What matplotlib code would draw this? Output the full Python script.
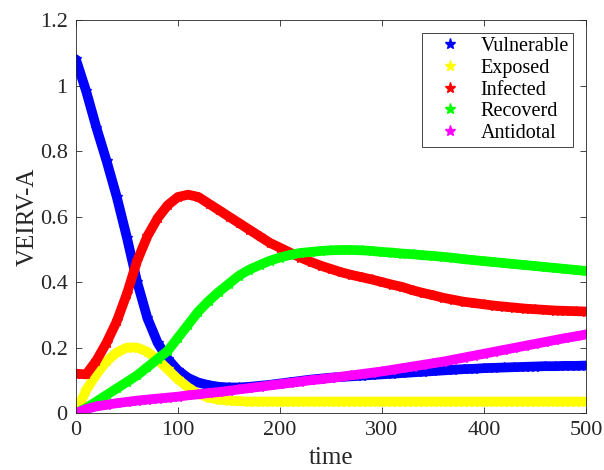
import numpy as np
import matplotlib
matplotlib.use("Agg")
import matplotlib.pyplot as plt
from matplotlib.lines import Line2D
from matplotlib.ticker import FormatStrFormatter

# time grid (every 10 units)
t = np.arange(0, 501, 10)

vulnerable = [1.08, 0.983, 0.872, 0.77, 0.66, 0.535, 0.40, 0.29, 0.215, 0.165,
              0.13, 0.107, 0.093, 0.085, 0.08, 0.078, 0.078, 0.08, 0.083, 0.086,
              0.09, 0.094, 0.098, 0.102, 0.105, 0.108, 0.11, 0.112, 0.114, 0.116,
              0.118, 0.12, 0.122, 0.124, 0.126, 0.128, 0.13, 0.132, 0.134, 0.135,
              0.137, 0.138, 0.139, 0.14, 0.141, 0.142, 0.143, 0.143, 0.144, 0.144,
              0.145]
exposed = [0.0, 0.07, 0.118, 0.158, 0.185, 0.2, 0.2, 0.187, 0.163, 0.133,
           0.103, 0.078, 0.058, 0.047, 0.041, 0.038, 0.036, 0.035, 0.035, 0.035,
           0.035, 0.035, 0.035, 0.035, 0.035, 0.035, 0.035, 0.035, 0.035, 0.035,
           0.035, 0.035, 0.035, 0.035, 0.035, 0.035, 0.035, 0.035, 0.035, 0.035,
           0.035, 0.035, 0.035, 0.035, 0.035, 0.035, 0.035, 0.035, 0.035, 0.035,
           0.035]
infected = [0.12, 0.118, 0.16, 0.215, 0.28, 0.365, 0.465, 0.54, 0.595, 0.635,
            0.66, 0.667, 0.66, 0.64, 0.62, 0.60, 0.58, 0.56, 0.54, 0.52,
            0.505, 0.49, 0.475, 0.462, 0.45, 0.44, 0.43, 0.422, 0.415, 0.408,
            0.40, 0.392, 0.385, 0.375, 0.367, 0.36, 0.352, 0.346, 0.34, 0.336,
            0.332, 0.328, 0.325, 0.322, 0.319, 0.317, 0.315, 0.313, 0.312, 0.311,
            0.31]
recovered = [0.0, 0.015, 0.035, 0.055, 0.075, 0.095, 0.115, 0.14, 0.165, 0.19,
             0.23, 0.27, 0.31, 0.342, 0.37, 0.395, 0.42, 0.438, 0.452, 0.465,
             0.475, 0.483, 0.489, 0.492, 0.495, 0.497, 0.498, 0.498, 0.497, 0.495,
             0.492, 0.49, 0.487, 0.485, 0.482, 0.48, 0.477, 0.474, 0.47, 0.467,
             0.464, 0.461, 0.458, 0.455, 0.452, 0.449, 0.446, 0.443, 0.44, 0.437,
             0.434]
antidotal = [0.0, 0.012, 0.02, 0.025, 0.03, 0.034, 0.038, 0.041, 0.044, 0.047,
             0.05, 0.054, 0.057, 0.061, 0.064, 0.068, 0.072, 0.076, 0.08, 0.084,
             0.088, 0.092, 0.096, 0.1, 0.103, 0.107, 0.111, 0.115, 0.119, 0.123,
             0.127, 0.132, 0.137, 0.142, 0.147, 0.152, 0.157, 0.163, 0.169, 0.175,
             0.181, 0.187, 0.193, 0.199, 0.205, 0.211, 0.217, 0.223, 0.229, 0.234,
             0.24]

names = ["Vulnerable", "Exposed", "Infected", "Recoverd", "Antidotal"]
colors = ["#0000ff", "#ffff00", "#ff0000", "#00ff00", "#ff00ff"]
series = [vulnerable, exposed, infected, recovered, antidotal]

plt.rcParams["font.family"] = ["Liberation Serif", "DejaVu Serif"]
axcol = "#262626"

fig = plt.figure(figsize=(6.04, 4.70), dpi=100)
ax = fig.add_axes([0.1258, 0.1213, 0.8442, 0.8357])

for y, c in zip(series, colors):
    ax.plot(t, y, color=c, linewidth=7, solid_capstyle="round",
            marker="*", markersize=7, markeredgewidth=1.0)

ax.set_xlim(0, 500)
ax.set_ylim(0, 1.2)
ax.set_xticks([0, 100, 200, 300, 400, 500])
ax.set_yticks([0, 0.2, 0.4, 0.6, 0.8, 1.0, 1.2])
ax.yaxis.set_major_formatter(FormatStrFormatter("%g"))
ax.tick_params(direction="in", length=4, width=0.6, top=True, right=True,
               labelsize=16, colors=axcol, labelcolor=axcol)
ax.tick_params(axis="y", pad=6)
ax.tick_params(axis="x", pad=6)
for s in ax.spines.values():
    s.set_color(axcol)
    s.set_linewidth(0.6)

ax.set_xlabel("time", fontsize=18, color=axcol, labelpad=5)
ax.set_ylabel("VEIRV-A", fontsize=18, color=axcol, labelpad=1)

handles = [Line2D([], [], linestyle="none", marker="*", markersize=8,
                  color=c) for c in colors]
leg = ax.legend(handles, names, loc="upper right", fontsize=14.5,
                bbox_to_anchor=(0.9745, 0.967), borderaxespad=0,
                fancybox=False, framealpha=1, edgecolor=axcol,
                handlelength=2.4, handletextpad=0.3,
                labelspacing=0.13, borderpad=0.2)
leg.get_frame().set_linewidth(0.6)

fig.savefig("out.png", dpi=100)
